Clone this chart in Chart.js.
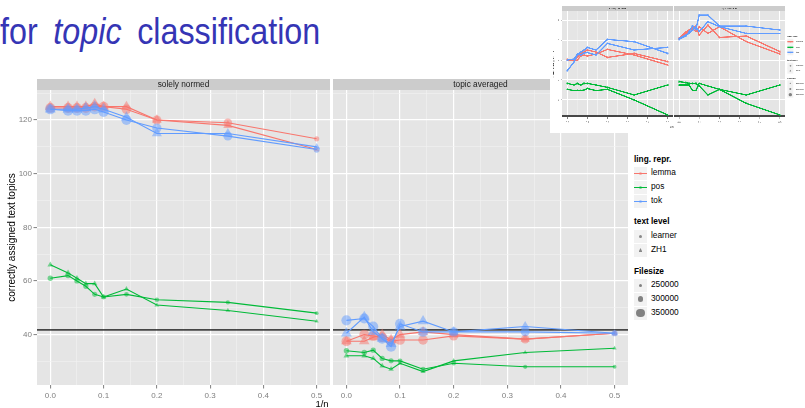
<!DOCTYPE html>
<html><head><meta charset="utf-8">
<script src="https://cdn.jsdelivr.net/npm/chart.js@4.4.1/dist/chart.umd.min.js"></script>
<style>
body{margin:0;width:805px;height:408px;background:#fff;position:relative;overflow:hidden;font-family:"Liberation Sans",Arial,sans-serif;}
canvas{position:absolute;}
.abs{position:absolute;white-space:nowrap;}
#inset{position:absolute;left:550px;top:0;width:255px;height:133px;background:#fff;overflow:hidden;z-index:5;}
#insetInner{position:absolute;left:0;top:0;width:765px;height:399px;transform:scale(0.33333);transform-origin:0 0;}
</style></head><body>
<div class="abs" id="title" style="left:0;top:14.5px;font-size:34px;line-height:34px;color:#3535B5;word-spacing:7px;transform:scale(0.95,1.1);transform-origin:0 28.8px;">for <i>topic</i> classification</div>
<div id="main"></div>
<div class="abs" id="xtitle" style="left:322px;top:397.5px;font-size:9.5px;line-height:11px;transform:translateX(-50%);color:#000;">1/n</div>
<div id="legend"></div>
<div id="inset"><div id="insetInner"></div></div>
<script>
// ---------- data (main chart) ----------
const invN = [0, 0.0333, 0.05, 0.0667, 0.0833, 0.1, 0.1429, 0.2, 0.3333, 0.5];
const facets = ['solely normed', 'topic averaged'];
const lingRepr = ['lemma', 'pos', 'tok'];
const textLevels = ['learner', 'ZH1'];
const filesizeBreaks = [250000, 300000, 350000];
const yMajorTicks = [40, 60, 80, 100, 120];
const yMinorTicks = [30, 50, 70, 90, 110, 130];
const xMajorTicks = [0, 0.1, 0.2, 0.3, 0.4, 0.5];
const xMinorTicks = [0.05, 0.15, 0.25, 0.35, 0.45];
const baselineTopics = 41.75;

// solely normed
const normedLemmaLearner = [124.5, 124.5, 124.5, 124.5, 125, 125, 124, 120, 119, 113];
const normedLemmaZH1     = [125, 125, 125, 125, 126, 125, 125, 120, 118, 109];
const normedPosLearner   = [61, 62, 60, 58, 55, 54, 55, 53, 52, 48];
const normedPosZH1       = [66, 63, 61, 59, 59, 54, 57, 51, 49, 45];
const normedTokLearner   = [124, 123.5, 123.5, 123.5, 124, 123, 120, 117, 114, 109];
const normedTokZH1       = [124, 124, 124, 124.5, 125, 124, 121, 115, 115, 110];
// topic averaged
const avgLemmaLearner = [37.5, 40, 39.5, 39, 37.5, 38, 38, 39.5, 38.3, 40.5];
const avgLemmaZH1     = [37.5, 37.5, 39, 40, 38, 40, 41, 40, 38.3, 40.5];
const avgPosLearner   = [34, 33.3, 34.2, 31.1, 30.2, 30.2, 27.1, 29.3, 28, 28];
const avgPosZH1       = [32.1, 32.1, 31.1, 28.3, 27.1, 29.3, 26.2, 30.2, 33.3, 34.9];
const avgTokLearner   = [45.3, 46, 43, 38.5, 35.5, 44, 41, 41, 41, 40.5];
const avgTokZH1       = [40.5, 46.5, 41, 38.5, 36.5, 43, 45, 41, 43, 40.5];
// file sizes
const lemmaFilesize = [370000, 370000, 370000, 370000, 370000, 370000, 365000, 355000, 345000, 280000];
const posFilesize   = [285000, 285000, 283000, 280000, 278000, 276000, 272000, 268000, 262000, 255000];
const tokFilesize   = [375000, 375000, 375000, 375000, 375000, 375000, 370000, 360000, 350000, 300000];

// ---------- data (inset thumbnail chart) ----------
const insetYMajor = [1, 2, 3, 4, 5];
const insetYMinor = [0.5, 1.5, 2.5, 3.5, 4.5];
const insetBaseline = 0.2;
const insetNormedTokA   = [2.47, 2.9, 3.25, 3.4, 3.5, 3.63, 3.5, 4.03, 3.92, 3.33];
const insetNormedTokB   = [3.0, 3.05, 3.3, 3.25, 3.35, 3.37, 3.25, 3.83, 3.5, 3.63];
const insetNormedLemmaA = [3.03, 3.0, 3.15, 3.33, 3.4, 3.5, 3.4, 3.13, 3.33, 2.92];
const insetNormedLemmaB = [2.97, 2.97, 3.0, 3.2, 3.25, 3.2, 3.3, 3.53, 3.25, 2.75];
const insetNormedPosA   = [1.83, 1.75, 1.83, 1.75, 1.83, 1.83, 1.75, 1.63, 1.25, 1.75];
const insetNormedPosB   = [1.53, 1.47, 1.47, 1.47, 1.5, 1.57, 1.47, 1.53, 1.0, 0.25];
const insetAvgTokA   = [4.03, 4.2, 4.42, 4.7, 4.53, 5.25, 5.25, 4.7, 4.7, 4.5];
const insetAvgTokB   = [4.08, 4.25, 4.33, 4.5, 4.67, 4.42, 4.92, 4.67, 4.33, 4.33];
const insetAvgLemmaA = [4.08, 4.4, 4.5, 4.6, 4.7, 4.25, 4.75, 4.13, 4.2, 3.42];
const insetAvgLemmaB = [4.03, 4.3, 4.5, 4.58, 4.42, 4.67, 4.33, 4.67, 3.92, 3.3];
const insetAvgPosA   = [1.92, 1.87, 1.83, 1.83, 1.83, 1.7, 1.25, 1.53, 1.25, 1.75];
const insetAvgPosB   = [1.75, 1.75, 1.75, 1.47, 1.47, 1.83, 1.7, 1.53, 0.83, 0.25];

// ---------- styling ----------
const FONT = '"Liberation Sans", Arial, sans-serif';
const GREY = '#7F7F7F';
const COLORS = {lemma: '#F8766D', pos: '#00BA38', tok: '#619CFF'};
const ORDER = {tok: 0, lemma: 1, pos: 2};
const SIZES = {lemma: lemmaFilesize, pos: posFilesize, tok: tokFilesize};
function radiusFor(fs) { return 1.8 + (fs - 250000) / 50000 * 1.3; }
function rgba(hex, a) { const n = parseInt(hex.slice(1), 16); return `rgba(${n >> 16},${(n >> 8) & 255},${n & 255},${a})`; }
const near = (list, v) => list.some(t => Math.abs(t - v) < 1e-9);

function makeDataset(ling, level, vals, opt) {
  const tri = level === 'ZH1';
  return {
    data: invN.map((x, i) => ({x: x, y: vals[i]})),
    borderColor: COLORS[ling], borderWidth: opt.lw,
    pointStyle: tri ? 'triangle' : 'circle',
    pointRadius: opt.fixedR ? invN.map(() => opt.fixedR * (tri ? 1.25 : 1)) : SIZES[ling].map(s => radiusFor(s) * (tri ? 1.25 : 1)),
    pointBackgroundColor: rgba(COLORS[ling], opt.alpha), pointBorderWidth: 0, pointHoverRadius: 0,
    tension: 0, order: ORDER[ling], clip: false
  };
}

const panelPlugin = {
  id: 'panel',
  beforeDraw(chart, args, o) {
    const {ctx, chartArea: a} = chart;
    ctx.save();
    ctx.fillStyle = '#E5E5E5';
    ctx.fillRect(a.left, a.top, a.right - a.left, a.bottom - a.top);
    ctx.fillStyle = '#CCCCCC';
    ctx.fillRect(a.left, a.top - o.stripH, a.right - a.left, o.stripH);
    ctx.fillStyle = '#1A1A1A';
    ctx.font = o.stripFont + 'px ' + FONT;
    ctx.textAlign = 'center'; ctx.textBaseline = 'middle';
    ctx.fillText(o.strip, (a.left + a.right) / 2, a.top - o.stripH / 2 + 0.5);
    ctx.restore();
  },
  beforeDatasetsDraw(chart, args, o) {
    const {ctx, chartArea: a} = chart;
    const y = chart.scales.y.getPixelForValue(o.baseline);
    ctx.save();
    ctx.strokeStyle = 'rgba(30,30,30,0.8)';
    ctx.lineWidth = o.baseW;
    ctx.beginPath(); ctx.moveTo(a.left, y); ctx.lineTo(a.right, y); ctx.stroke();
    ctx.restore();
  }
};

function makePanel(o) {
  const cv = document.createElement('canvas');
  cv.width = o.w; cv.height = o.h;
  Object.assign(cv.style, {left: o.x + 'px', top: o.y + 'px', width: o.w + 'px', height: o.h + 'px'});
  o.parent.appendChild(cv);
  const allX = [...xMajorTicks, ...xMinorTicks].sort((a, b) => a - b);
  const allY = [...o.yMajor, ...o.yMinor].sort((a, b) => a - b);
  const mx = c => c.tick && near(xMajorTicks, c.tick.value);
  const my = c => c.tick && near(o.yMajor, c.tick.value);
  return new Chart(cv, {
    type: 'line',
    data: {datasets: o.datasets},
    options: {
      responsive: false, maintainAspectRatio: false, animation: false, devicePixelRatio: 1, events: [],
      layout: {autoPadding: false, padding: {left: 0, top: o.area.t, right: o.w - o.area.r, bottom: 0}},
      plugins: {legend: {display: false}, tooltip: {enabled: false},
        panel: {strip: o.strip, stripH: o.stripH, stripFont: o.stripFont, baseline: o.baseline, baseW: o.baseW}},
      scales: {
        x: {type: 'linear', min: -0.025, max: 0.525,
          afterBuildTicks: s => { s.ticks = allX.map(v => ({value: v})); },
          afterFit: s => { s.height = o.h - o.area.b; s.paddingLeft = 0; s.paddingRight = 0; },
          ticks: {autoSkip: false, maxRotation: 0, minRotation: 0, color: GREY, font: {family: FONT, size: o.tickFont}, padding: o.tickPad,
            callback: v => near(xMajorTicks, v) ? Number(v).toFixed(1) : ''},
          grid: {color: c => mx(c) ? '#FFFFFF' : '#F2F2F2', lineWidth: c => mx(c) ? o.majW : o.minW,
            tickLength: o.tickLen, tickColor: c => mx(c) ? GREY : 'rgba(0,0,0,0)', tickWidth: o.tickW},
          border: {display: false}
        },
        y: {type: 'linear', min: o.yMin, max: o.yMax,
          afterBuildTicks: s => { s.ticks = allY.map(v => ({value: v})); },
          afterFit: s => { s.width = o.area.l; s.paddingTop = 0; s.paddingBottom = 0; },
          ticks: {display: o.showY, autoSkip: false, color: GREY, font: {family: FONT, size: o.tickFont}, padding: o.tickPadY,
            callback: v => near(o.yMajor, v) ? String(v) : ''},
          grid: {color: c => my(c) ? '#FFFFFF' : '#F2F2F2', lineWidth: c => my(c) ? o.majW : o.minW,
            drawTicks: o.showY, tickLength: o.tickLen, tickColor: c => my(c) ? GREY : 'rgba(0,0,0,0)', tickWidth: o.tickW},
          border: {display: false},
          title: {display: !!o.yTitle, text: o.yTitle || '', color: '#000', font: {family: FONT, size: o.titleFont}, padding: {top: o.titlePad, bottom: 0}}
        }
      }
    },
    plugins: [panelPlugin]
  });
}

// ---------- main chart ----------
const mainSeries = [
  {lemma: [normedLemmaLearner, normedLemmaZH1], pos: [normedPosLearner, normedPosZH1], tok: [normedTokLearner, normedTokZH1]},
  {lemma: [avgLemmaLearner, avgLemmaZH1], pos: [avgPosLearner, avgPosZH1], tok: [avgTokLearner, avgTokZH1]}
];
function buildSets(series, opt) {
  const out = [];
  lingRepr.forEach(l => textLevels.forEach((lv, k) => out.push(makeDataset(l, lv, series[l][k], opt))));
  return out;
}
const mainCommon = {parent: document.getElementById('main'), y: 70, h: 338, yMin: 21.2, yMax: 131.2,
  yMajor: yMajorTicks, yMinor: yMinorTicks, baseline: baselineTopics, baseW: 1.8, stripH: 11, stripFont: 8.3,
  tickFont: 8, tickPad: 2, tickPadY: 1.5, tickLen: 3.5, tickW: 1, majW: 1.2, minW: 0.6, titleFont: 10, titlePad: 6};
makePanel(Object.assign({}, mainCommon, {x: 0, w: 331, area: {l: 37, t: 20, r: 330, b: 315}, showY: true,
  yTitle: 'correctly assigned text topics', strip: facets[0], datasets: buildSets(mainSeries[0], {lw: 1.1, alpha: 0.5})}));
makePanel(Object.assign({}, mainCommon, {x: 331, w: 300, area: {l: 2, t: 20, r: 297, b: 315}, showY: false,
  strip: facets[1], datasets: buildSets(mainSeries[1], {lw: 1.1, alpha: 0.5})}));

// ---------- inset ----------
const insetSeries = [
  {lemma: [insetNormedLemmaA, insetNormedLemmaB], pos: [insetNormedPosA, insetNormedPosB], tok: [insetNormedTokA, insetNormedTokB]},
  {lemma: [insetAvgLemmaA, insetAvgLemmaB], pos: [insetAvgPosA, insetAvgPosB], tok: [insetAvgTokA, insetAvgTokB]}
];
const insetCommon = {parent: document.getElementById('insetInner'), y: 0, h: 385, yMin: 0.13, yMax: 5.47,
  yMajor: insetYMajor, yMinor: insetYMinor, baseline: insetBaseline, baseW: 5, stripH: 14, stripFont: 8,
  tickFont: 7, tickPad: 6, tickPadY: 4, tickLen: 5, tickW: 2, majW: 3, minW: 1.5, titleFont: 8, titlePad: 6};
makePanel(Object.assign({}, insetCommon, {x: 0, w: 370, area: {l: 37, t: 32, r: 368, b: 352}, showY: true,
  yTitle: 'correctly assigned LTS', strip: facets[0], datasets: buildSets(insetSeries[0], {lw: 4, alpha: 0.6, fixedR: 3.5})}));
makePanel(Object.assign({}, insetCommon, {x: 370, w: 340, area: {l: 2, t: 32, r: 335, b: 352}, showY: false,
  strip: facets[1], datasets: buildSets(insetSeries[1], {lw: 4, alpha: 0.6, fixedR: 3.5})}));

// ---------- legends ----------
function buildLegend(parent, L) {
  const add = (html, css) => { const d = document.createElement('div'); d.className = 'abs'; d.innerHTML = html; Object.assign(d.style, css); parent.appendChild(d); return d; };
  const title = (txt, cy) => add(txt, {left: L.x + 'px', top: (cy - L.font * 0.6) + 'px', fontSize: L.font + 'px', lineHeight: (L.font * 1.2) + 'px', fontWeight: 'bold', color: '#000'});
  const label = (txt, cy) => add(txt, {left: L.textX + 'px', top: (cy - L.font * 0.6) + 'px', fontSize: L.font + 'px', lineHeight: (L.font * 1.2) + 'px', color: '#000'});
  const box = cy => add('', {left: L.x + 'px', top: (cy - L.key / 2) + 'px', width: L.key + 'px', height: L.key + 'px', background: '#F2F2F2'});
  const dot = (b, r, color, shape) => {
    const d = document.createElement('div');
    Object.assign(d.style, {position: 'absolute', left: (L.key / 2 - r) + 'px', top: (L.key / 2 - r) + 'px', width: 2 * r + 'px', height: 2 * r + 'px', background: color,
      borderRadius: shape === 'tri' ? '0' : '50%', clipPath: shape === 'tri' ? 'polygon(50% 0,100% 100%,0 100%)' : 'none'});
    b.appendChild(d);
  };
  title('ling. repr.', L.t1);
  lingRepr.forEach((l, i) => {
    const b = box(L.r1[i]);
    const ln = document.createElement('div');
    Object.assign(ln.style, {position: 'absolute', left: '0', top: (L.key / 2 - L.lw / 2) + 'px', width: L.key + 'px', height: L.lw + 'px', background: COLORS[l]});
    b.appendChild(ln);
    dot(b, L.dotR, rgba(COLORS[l], 0.5), 'circle');
    label(l, L.r1[i]);
  });
  title('text level', L.t2);
  textLevels.forEach((lv, i) => { const b = box(L.r2[i]); dot(b, lv === 'ZH1' ? L.dotR * 1.3 : L.dotR, 'rgba(110,110,110,0.8)', lv === 'ZH1' ? 'tri' : 'circle'); label(lv, L.r2[i]); });
  title('Filesize', L.t3);
  filesizeBreaks.forEach((fs, i) => { const b = box(L.r3[i]); dot(b, radiusFor(fs) * L.sc, 'rgba(110,110,110,0.85)', 'circle'); label(String(fs), L.r3[i]); });
}
buildLegend(document.getElementById('legend'), {x: 634, textX: 651, key: 13, font: 8.3, lw: 1.2, dotR: 1.5, sc: 0.95,
  t1: 159.5, r1: [173.3, 187.3, 201.3], t2: 222, r2: [236.3, 250], t3: 272.3, r3: [285.3, 299, 313]});
buildLegend(document.getElementById('insetInner'), {x: 712, textX: 738, key: 18, font: 7, lw: 4, dotR: 2.5, sc: 1.1,
  t1: 110, r1: [125, 142, 157], t2: 182, r2: [197, 212], t3: 235, r3: [250, 267, 284]});
(function () {
  const d = document.createElement('div'); d.className = 'abs'; d.textContent = '1/n';
  Object.assign(d.style, {left: '365px', top: '378px', fontSize: '8px', transform: 'translateX(-50%)', color: '#000'});
  document.getElementById('insetInner').appendChild(d);
})();
</script>
</body></html>
